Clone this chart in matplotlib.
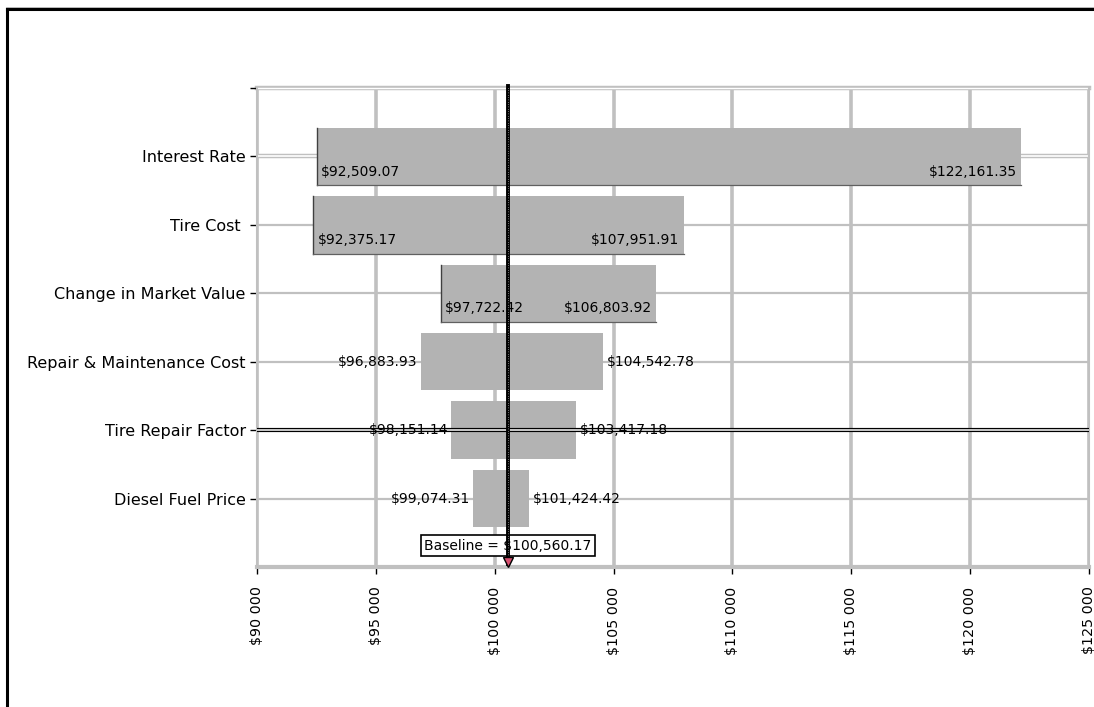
import matplotlib.pyplot as plt
from matplotlib.lines import Line2D

# tornado data
categories = ['Interest Rate', 'Tire Cost ', 'Change in Market Value',
              'Repair & Maintenance Cost', 'Tire Repair Factor', 'Diesel Fuel Price']
low_vals = [92509.07, 92375.17, 97722.42, 96883.93, 98151.14, 99074.31]
high_vals = [122161.35, 107951.91, 106803.92, 104542.78, 103417.18, 101424.42]
labels_inside = [True, True, True, False, False, False]
baseline = 100560.17
xticks = [90000, 95000, 100000, 105000, 110000, 115000, 120000, 125000]

grid_c = '#c0c0c0'
bar_c = '#b3b3b3'

fig = plt.figure(figsize=(10.94, 7.07), dpi=100)
ax = fig.add_axes([0.2349, 0.198, 0.7605, 0.6775])

n = len(categories)
ypos = list(range(n, 0, -1))

ax.set_xlim(90000, 125000)
ax.set_ylim(0, n + 1)

# grid
for x in xticks:
    ax.axvline(x, color=grid_c, lw=2.6, zorder=0)
for y in ypos:
    ax.axhline(y, color=grid_c, lw=1.6, zorder=0)

# double lines
ax.axhline(ypos[0], color=grid_c, lw=3.2, zorder=0.5)
ax.axhline(ypos[0], color='white', lw=1.2, zorder=0.6)
ax.axhline(ypos[4], color='black', lw=3.0, zorder=3)
ax.axhline(ypos[4], color='white', lw=1.1, zorder=3.1)
ax.axhline(n + 1, color=grid_c, lw=3.2, zorder=0.5, clip_on=False)
ax.axhline(n + 1, color='white', lw=1.0, zorder=0.6, clip_on=False)

h = 0.84
fs = 10
ax.barh(ypos, [hv - lv for lv, hv in zip(low_vals, high_vals)], left=low_vals,
        height=h, color=bar_c, edgecolor='none', zorder=2)

for y, lv, hv, inside in zip(ypos, low_vals, high_vals, labels_inside):
    lt = '${:,.2f}'.format(lv)
    ht = '${:,.2f}'.format(hv)
    if inside:
        ax.plot([lv, lv], [y - h / 2, y + h / 2], color='#404040', lw=1, zorder=2.2)
        ax.plot([lv, hv], [y - h / 2, y - h / 2], color='#606060', lw=0.9, zorder=2.2)
        ax.annotate(lt, (lv, y - 0.22), xytext=(3, 0), textcoords='offset points',
                    ha='left', va='center', fontsize=fs, zorder=4)
        ax.annotate(ht, (hv, y - 0.22), xytext=(-3, 0), textcoords='offset points',
                    ha='right', va='center', fontsize=fs, zorder=4)
    else:
        ax.annotate(lt, (lv, y), xytext=(-2, 0), textcoords='offset points',
                    ha='right', va='center', fontsize=fs, zorder=4)
        ax.annotate(ht, (hv, y), xytext=(3, 0), textcoords='offset points',
                    ha='left', va='center', fontsize=fs, zorder=4)

# baseline marker
ax.text(baseline, 0.31, 'Baseline = ${:,.2f}'.format(baseline), ha='center', va='center',
        fontsize=fs, zorder=4,
        bbox=dict(boxstyle='square,pad=0.25', fc='white', ec='black', lw=1.2))
ax.plot([baseline, baseline], [0.05, n + 1.03], color='black', lw=2.8,
        zorder=5, clip_on=False)
ax.plot([baseline, baseline], [0.05, n + 1.03], color='white', lw=0.6,
        ls=(0, (0.6, 2.2)), zorder=5.1, clip_on=False)
ax.plot([baseline], [0.07], marker='v', ms=7, mfc='#d85070', mec='black', mew=1,
        zorder=6, clip_on=False)

ax.set_yticks(ypos + [n + 1])
ax.set_yticklabels(categories + [''], fontsize=11.5)
ax.set_xticks(xticks)
ax.set_xticklabels(['${:,}'.format(x).replace(',', ' ') for x in xticks],
                   rotation=90, fontsize=10.3, va='top')
ax.tick_params(axis='x', length=5, width=1, pad=9, colors='black')
ax.tick_params(axis='y', length=5, width=1, pad=3, colors='black')

for s in ['left', 'right']:
    ax.spines[s].set_color(grid_c)
    ax.spines[s].set_linewidth(1.5)
ax.spines['top'].set_visible(False)
ax.spines['bottom'].set_color(grid_c)
ax.spines['bottom'].set_linewidth(3)

# outer frame (left and top edges visible)
fig.add_artist(Line2D([0.006, 1.0], [0.9885, 0.9885], color='#b0b0b0', lw=1.2))
fig.add_artist(Line2D([0.006, 0.006], [0, 0.987], color='black', lw=2.2))
fig.add_artist(Line2D([0.006, 1.0], [0.987, 0.987], color='black', lw=2.2))

fig.savefig('out.png', dpi=100)
